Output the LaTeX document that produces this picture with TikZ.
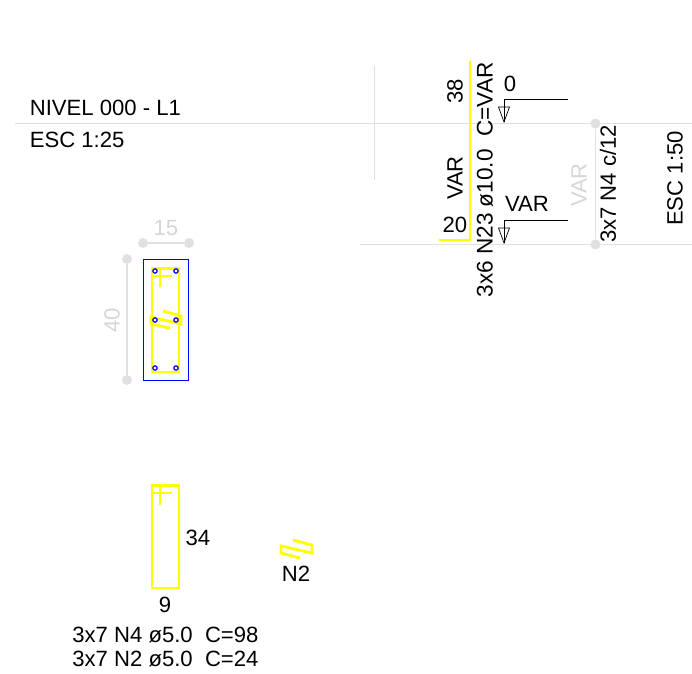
\documentclass[tikz,border=0pt]{standalone}
\usepackage{fontspec}
\setmainfont{Liberation Sans}
\definecolor{cadgrey}{HTML}{E0E0E0}
\definecolor{cadyellow}{HTML}{FFFF00}
\definecolor{cadblue}{HTML}{0000FF}
\begin{document}
\begin{tikzpicture}[x=0.5pt, y=-0.5pt, font=\fontsize{11.05}{13}\selectfont,
        label/.style={inner sep=0pt, text=black},
        greylabel/.style={inner sep=0pt, text=black!16},
        grid/.style={draw=cadgrey, line width=0.5pt},
        dim/.style={draw=cadgrey, line width=0.7pt},
        tick/.style={circle, fill=cadgrey, inner sep=0pt, minimum size=5pt},
        bar/.style={draw=cadyellow, line width=1.4pt, line join=miter},
        thinbar/.style={draw=cadyellow, line width=1pt},
        rebar/.style={circle, draw=cadblue, fill=white, line width=0.6pt, inner sep=0pt, minimum size=2.2pt},
        level/.style={draw=black, line width=0.35pt}]
        \useasboundingbox (0,0) rectangle (692,674);

        \node (nivel) [label, anchor=base west] at (29.5,116) {NIVEL 000 - L1};
        \node (esctop) [label, anchor=base west] at (29.5,148) {ESC 1:25};
        \coordinate (gridal) at (15,123.5);
        \coordinate (gridar) at (692,123.5);
        \coordinate (gridbl) at (360,244.5);
        \coordinate (gridbr) at (692,244.5);
        \coordinate (gridct) at (374,66);
        \coordinate (gridcb) at (374,180);
        \draw[grid] (gridal) edge (gridar);
        \draw[grid] (gridbl) edge (gridbr);
        \draw[grid] (gridct) edge (gridcb);

        \coordinate (bartop) at (470,61);
        \coordinate (barcorner) at (470,240);
        \coordinate (barend) at (439,240);
        \draw[thinbar] (bartop) -- (barcorner) -- (barend);
        \node (lenbig) [label, rotate=90] at (455,91) {38};
        \node (lenvar) [label, rotate=90] at (455,178) {VAR};
        \node (lensmall) [label] at (455,225) {20};
        \node (barcall) [label, rotate=90, font=\fontsize{11.3}{13}\selectfont] at (485,180) {3x6 N23 ø10.0\ \ C=VAR};

        \node (levzero) [label] at (510,84) {0};
        \coordinate (levas) at (568,99);
        \coordinate (levab) at (504,99);
        \coordinate (levac) at (504,122);
        \draw[level] (levas) -- (levab) -- (levac);
        \draw[level] (levac) -- ++(-5.5,-15) -- ++(11,0) -- cycle;
        \node (levvar) [label] at (527,204) {VAR};
        \coordinate (levbs) at (568,220);
        \coordinate (levbb) at (504,220);
        \coordinate (levbc) at (504,243);
        \draw[level] (levbs) -- (levbb) -- (levbc);
        \draw[level] (levbc) -- ++(-5.5,-15) -- ++(11,0) -- cycle;

        \node (spant) [tick] at (595.5,123.5) {};
        \node (spanb) [tick] at (595.5,244.5) {};
        \draw[dim] (spant) edge (spanb);
        \node (spanvar) [greylabel, rotate=90] at (579,185) {VAR};
        \node (spancall) [label, rotate=90] at (608,184) {3x7 N4 c/12};
        \node (escside) [label, rotate=90] at (675,178.5) {ESC 1:50};

        \node (widthl) [tick] at (143,243) {};
        \node (widthr) [tick] at (189,243) {};
        \draw[dim] (widthl) edge (widthr);
        \node (widthtxt) [greylabel] at (166,228) {15};
        \node (heightt) [tick] at (127,259) {};
        \node (heightb) [tick] at (127,380) {};
        \draw[dim] (heightt) edge (heightb);
        \node (heighttxt) [greylabel, rotate=90] at (112,320) {40};

        \draw[draw=cadblue, line width=0.5pt] (143.5,259.5) rectangle (188.5,380.5);
        \draw[bar] (152,268.5) rectangle (179,372);
        \draw[thinbar] (152,276) -- (172,276);
        \draw[thinbar] (160,268.5) -- (160,287);
        \draw[bar] (163,311) -- (181,316) -- (181,324) -- (151,317) -- (151,324) -- (170,328);
        \foreach \px/\py [count=\i] in {155/271, 176/271, 155/320, 176/320, 155/368, 176/368}
            \node (rebar\i) [rebar] at (\px,\py) {};

        \draw[bar] (152,485.5) rectangle (179,588);
        \draw[thinbar] (152,493) -- (172,493);
        \draw[thinbar] (160,485.5) -- (160,505);
        \node (stirh) [label] at (198,538) {34};
        \node (stirw) [label] at (165,605) {9};
        \draw[bar] (293,540) -- (312,545) -- (312,553) -- (281,546) -- (281,553) -- (300,558);
        \node (tiename) [label] at (296,574) {N2};
        \node (callone) [label, anchor=base west] at (72,642) {3x7 N4 ø5.0\ \ C=98};
        \node (calltwo) [label, anchor=base west] at (72,666) {3x7 N2 ø5.0\ \ C=24};
    \end{tikzpicture}
\end{document}
